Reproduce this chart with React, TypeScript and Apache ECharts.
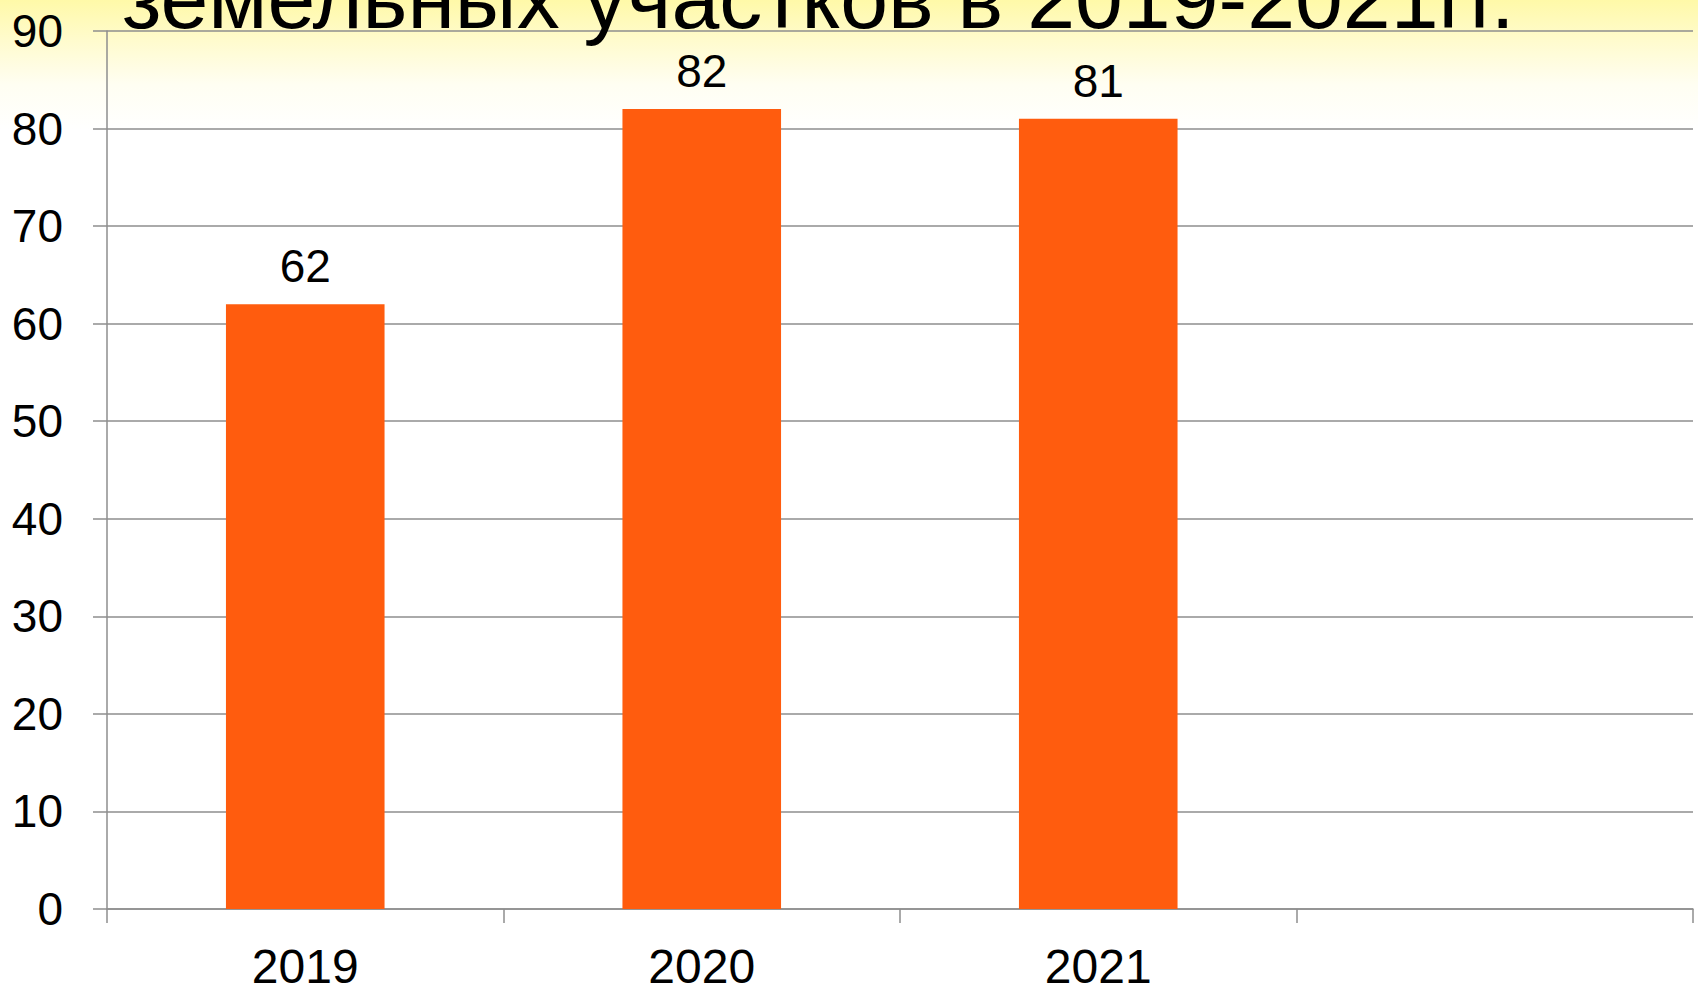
import React, { useEffect, useRef } from "react";
import * as echarts from "echarts";

const categories = ["2019", "2020", "2021", ""];
const values: (number | null)[] = [62, 82, 81, null];
const titleText = "земельных участков в 2019-2021гг.";
const yMin = 0;
const yMax = 90;
const yInterval = 10;

const FONT = "'Liberation Sans', Arial, sans-serif";

export default function App() {
  const ref = useRef<HTMLDivElement>(null);
  useEffect(() => {
    document.body.style.margin = "0";
    if (!ref.current) return;
    const chart = echarts.init(ref.current, undefined, { renderer: "svg" });
    chart.setOption({
      animation: false,
      backgroundColor: "#ffffff",
      textStyle: { fontFamily: FONT },
      graphic: [
        {
          type: "rect",
          z: -10,
          silent: true,
          shape: { x: 0, y: 0, width: 1698, height: 130 },
          style: {
            fill: new echarts.graphic.LinearGradient(0, 0, 0, 1, [
              { offset: 0, color: "#fff9a8" },
              { offset: 0.3, color: "#fffbcc" },
              { offset: 0.65, color: "#fffef2" },
              { offset: 1, color: "#ffffff" },
            ]),
          },
        },
        {
          type: "text",
          z: 100,
          x: 122,
          y: -2,
          style: {
            text: titleText,
            fontFamily: FONT,
            fontSize: 86,
            fill: "#000000",
            align: "left",
            verticalAlign: "middle",
          },
        },
      ],
      grid: { left: 107, right: 5, top: 31, bottom: 80, containLabel: false },
      xAxis: {
        type: "category",
        data: categories,
        axisLine: { show: true, lineStyle: { color: "#8e8e8e", width: 1.5 } },
        axisTick: { show: true, length: 14, lineStyle: { color: "#8e8e8e", width: 1.5 } },
        axisLabel: {
          color: "#000000",
          fontSize: 48,
          fontFamily: FONT,
          margin: 33,
          interval: 0,
        },
        splitLine: { show: false },
      },
      yAxis: {
        type: "value",
        min: yMin,
        max: yMax,
        interval: yInterval,
        axisLine: { show: true, lineStyle: { color: "#8e8e8e", width: 1.5 } },
        axisTick: { show: true, length: 14, lineStyle: { color: "#8e8e8e", width: 1.5 } },
        axisLabel: {
          color: "#000000",
          fontSize: 46,
          fontFamily: FONT,
          margin: 44,
        },
        splitLine: { show: true, lineStyle: { color: "#8e8e8e", width: 1.5 } },
      },
      series: [
        {
          type: "bar",
          data: values,
          barCategoryGap: "60%",
          itemStyle: { color: "#ff5c0e" },
          label: {
            show: true,
            position: "top",
            distance: 15,
            color: "#000000",
            fontSize: 46,
            fontFamily: FONT,
          },
        },
      ],
    });
    return () => chart.dispose();
  }, []);
  return <div ref={ref} style={{ width: 1698, height: 990 }} />;
}
